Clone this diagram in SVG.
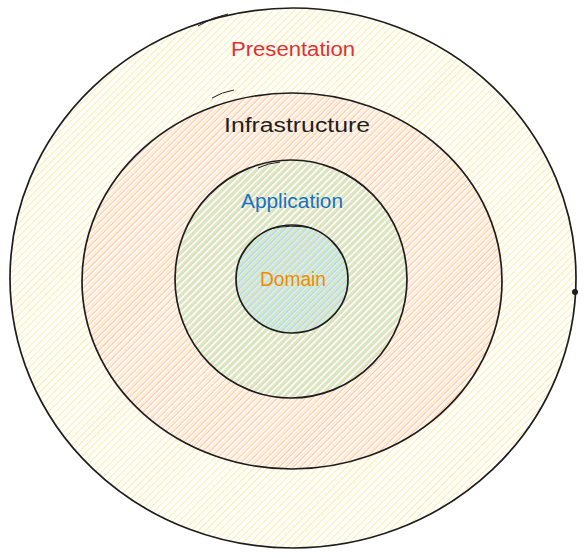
<svg xmlns="http://www.w3.org/2000/svg" width="586" height="558" viewBox="0 0 586 558">
<defs>
<pattern id="hY" width="5" height="5" patternUnits="userSpaceOnUse" patternTransform="rotate(45)"><line x1="0" y1="0" x2="0" y2="5" stroke="#ffe27a" stroke-width="1.4"/></pattern>
<pattern id="hR" width="5" height="5" patternUnits="userSpaceOnUse" patternTransform="rotate(45)"><line x1="2.5" y1="0" x2="2.5" y2="5" stroke="#ffc4bb" stroke-width="1.4"/></pattern>
<pattern id="hG" width="5" height="5" patternUnits="userSpaceOnUse" patternTransform="rotate(45)"><line x1="1.2" y1="0" x2="1.2" y2="5" stroke="#b2f2bb" stroke-width="1.4"/></pattern>
<pattern id="hB" width="5" height="5" patternUnits="userSpaceOnUse" patternTransform="rotate(45)"><line x1="3.7" y1="0" x2="3.7" y2="5" stroke="#a5d8ff" stroke-width="1.4"/></pattern>
</defs>
<style>
.ring{stroke:#1e1e1e;stroke-width:1.7;}
.lbl{font-family:"Liberation Sans",Arial,sans-serif;font-size:20px;text-anchor:middle;dominant-baseline:middle;}
.mark{fill:none;stroke:#1e1e1e;stroke-width:1;}
</style>
<g id="presentation">
<ellipse class="ring" cx="293" cy="278" rx="283" ry="270" fill="url(#hY)"/>
<path class="mark" d="M198,26 Q212,17 228,14"/>
<circle cx="575" cy="292" r="3" fill="#1e1e1e"/>
<text class="lbl" x="293" y="51" fill="#e03131" textLength="124" lengthAdjust="spacingAndGlyphs">Presentation</text>
</g>
<g id="infrastructure">
<ellipse class="ring" cx="292" cy="281" rx="210" ry="188" fill="url(#hR)"/>
<path class="mark" d="M212,98 Q222,92 234,90"/>
<text class="lbl" x="297" y="127" fill="#1e1e1e" textLength="146" lengthAdjust="spacingAndGlyphs">Infrastructure</text>
</g>
<g id="application">
<ellipse class="ring" cx="291" cy="279" rx="116" ry="119" fill="url(#hG)"/>
<path class="mark" d="M258,168 Q268,163 280,162"/>
<text class="lbl" x="292" y="203" fill="#1971c2" textLength="102" lengthAdjust="spacingAndGlyphs">Application</text>
</g>
<g id="domain">
<ellipse class="ring" cx="292" cy="279" rx="56" ry="54" fill="url(#hB)"/>
<path class="mark" d="M270,229 Q290,224 312,228"/>
<text class="lbl" x="293" y="281" fill="#f08c00" textLength="66" lengthAdjust="spacingAndGlyphs">Domain</text>
</g>
<g id="connectors"></g>
</svg>
